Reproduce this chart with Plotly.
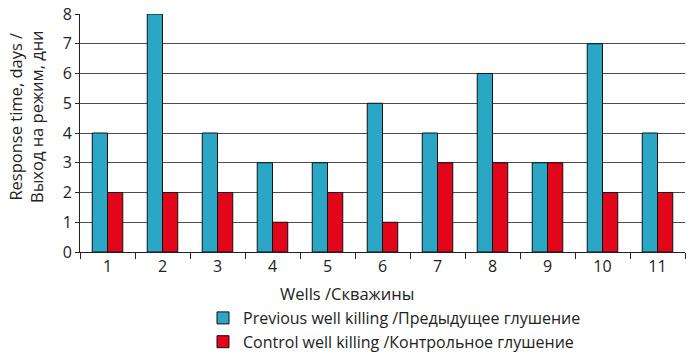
import plotly.graph_objects as go

wells = ["1", "2", "3", "4", "5", "6", "7", "8", "9", "10", "11"]
previous = [4, 8, 4, 3, 3, 5, 4, 6, 3, 7, 4]
control = [2, 2, 2, 1, 2, 1, 3, 3, 3, 2, 2]

FONT = "Open Sans"
FS = 16
TFS = 16.5
OFF = 8  # default page body margin
W, H = 700 - OFF, 355 - OFF
L, T = 80 - OFF, 14 - OFF
PB = 252 - OFF  # plot bottom in figure coords
PR = 685 - OFF
PW, PH = PR - L, PB - T


def px(x):
    return (x - OFF - L) / PW


def py(y):
    return (PB - (y - OFF)) / PH


fig = go.Figure()
fig.add_trace(go.Bar(x=wells, y=previous, name="Previous well killing /Предыдущее глушение",
                     marker=dict(color="#2BA6C4", line=dict(color="#111111", width=1))))
fig.add_trace(go.Bar(x=wells, y=control, name="Control well killing /Контрольное глушение",
                     marker=dict(color="#E3061B", line=dict(color="#111111", width=1))))

fig.update_layout(
    width=W, height=H,
    margin=dict(l=L, r=W - PR, t=T, b=H - PB, autoexpand=False),
    paper_bgcolor="white", plot_bgcolor="white",
    barmode="group", bargap=0.445, bargroupgap=0,
    font=dict(family=FONT, size=FS, color="#222222"),
    legend=dict(orientation="v", x=px(203), xanchor="left", y=py(301), yanchor="top",
                font=dict(family=FONT, size=16, color="#222222"),
                tracegroupgap=0, itemwidth=30, bgcolor="rgba(0,0,0,0)"),
    showlegend=True,
)
fig.update_xaxes(
    type="category", showline=True, linecolor="#222222", linewidth=1,
    ticks="outside", tickson="boundaries", ticklen=6, tickcolor="#222222",
    tickfont=dict(family=FONT, size=FS, color="#222222"), showgrid=False,
    ticklabeloverflow="allow",
)
fig.update_yaxes(
    range=[0, 8], dtick=1, showline=True, linecolor="#222222", linewidth=1,
    ticks="outside", ticklen=4, tickcolor="#222222",
    tickfont=dict(family=FONT, size=FS, color="#222222"),
    showgrid=True, gridcolor="#4d4d4d", gridwidth=1, zeroline=False,
    ticklabeloverflow="allow",
)
fig.add_annotation(text="Wells /Скважины", xref="paper", yref="paper",
                   x=px(347), y=py(293), xanchor="center", yanchor="middle", showarrow=False,
                   font=dict(family=FONT, size=TFS, color="#222222"))
fig.add_annotation(text="Response time, days /<br>Выход на режим, дни", xref="paper", yref="paper",
                   x=px(26), y=py(117), xanchor="center", yanchor="middle", showarrow=False,
                   textangle=-90,
                   font=dict(family=FONT, size=TFS, color="#222222"))

fig.write_html("out.html")
